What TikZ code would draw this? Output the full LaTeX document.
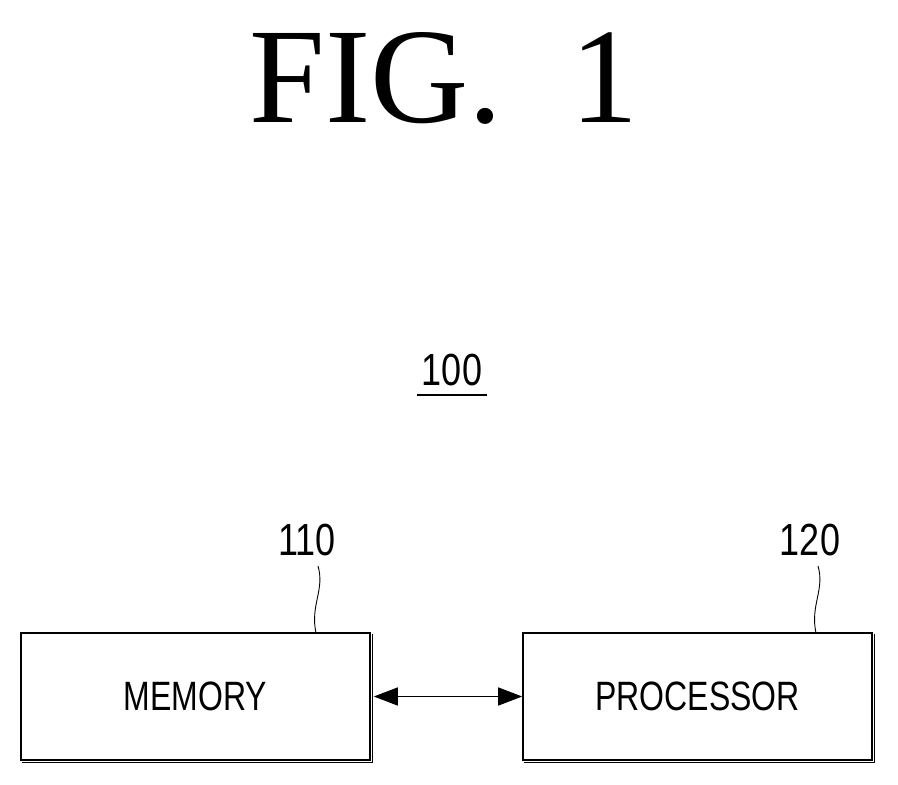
\documentclass[tikz,border=0pt]{standalone}
\usepackage{fontspec}
\setmainfont{Liberation Serif}
\newfontfamily\lab{Liberation Sans}
\usetikzlibrary{arrows.meta}
\begin{document}
\begin{tikzpicture}[x=1pt,y=-1pt,
  box/.style={draw,line width=1.6pt,minimum width=349pt,minimum height=127pt,inner sep=0pt},
  shade/.style={line width=1.6pt},
  txt/.style={font=\lab\fontsize{41}{41}\selectfont,xscale=0.78},
  num/.style={font=\lab\fontsize{45}{45}\selectfont,xscale=0.8},
  lead/.style={line width=0.9pt},
  tip/.style={Triangle[length=24pt,width=18pt]}]
\useasboundingbox (0,0) rectangle (898,785);
\node[font=\fontsize{136}{136}\selectfont] (fig) at (444,78) {FIG.\ \ 1};
\node[num] (n100) at (452,370) {100};
\draw[line width=1.4pt] (417,395) -- (487,395);
\node[box] (mem) at (195.5,696.5) {};
\node[txt] (memt) at (mem.center) {MEMORY};
\node[box] (proc) at (697.5,696.5) {};
\node[txt] (proct) at (proc.center) {PROCESSOR};
\draw[shade] ([xshift=1.5pt,yshift=-1.5pt]mem.north east) -- ([xshift=1.5pt,yshift=-1.5pt]mem.south east) -- ([xshift=1.5pt,yshift=-1.5pt]mem.south west);
\draw[shade] ([xshift=1.5pt,yshift=-1.5pt]proc.north east) -- ([xshift=1.5pt,yshift=-1.5pt]proc.south east) -- ([xshift=1.5pt,yshift=-1.5pt]proc.south west);
\draw[line width=1.4pt,{Triangle[length=24pt,width=18pt]}-{Triangle[length=24pt,width=18pt]}] ([xshift=3pt]mem.east) -- (proc.west);
\node[num] (n110) at (307,540) {110};
\node[num] (n120) at (810,540) {120};
\coordinate (a1) at (318,566);
\coordinate (a2) at (818,566);
\draw[lead] (a1) .. controls (325,590) and (310,605) .. (316,633);
\draw[lead] (a2) .. controls (825,590) and (810,605) .. (816,633);
\end{tikzpicture}
\end{document}
